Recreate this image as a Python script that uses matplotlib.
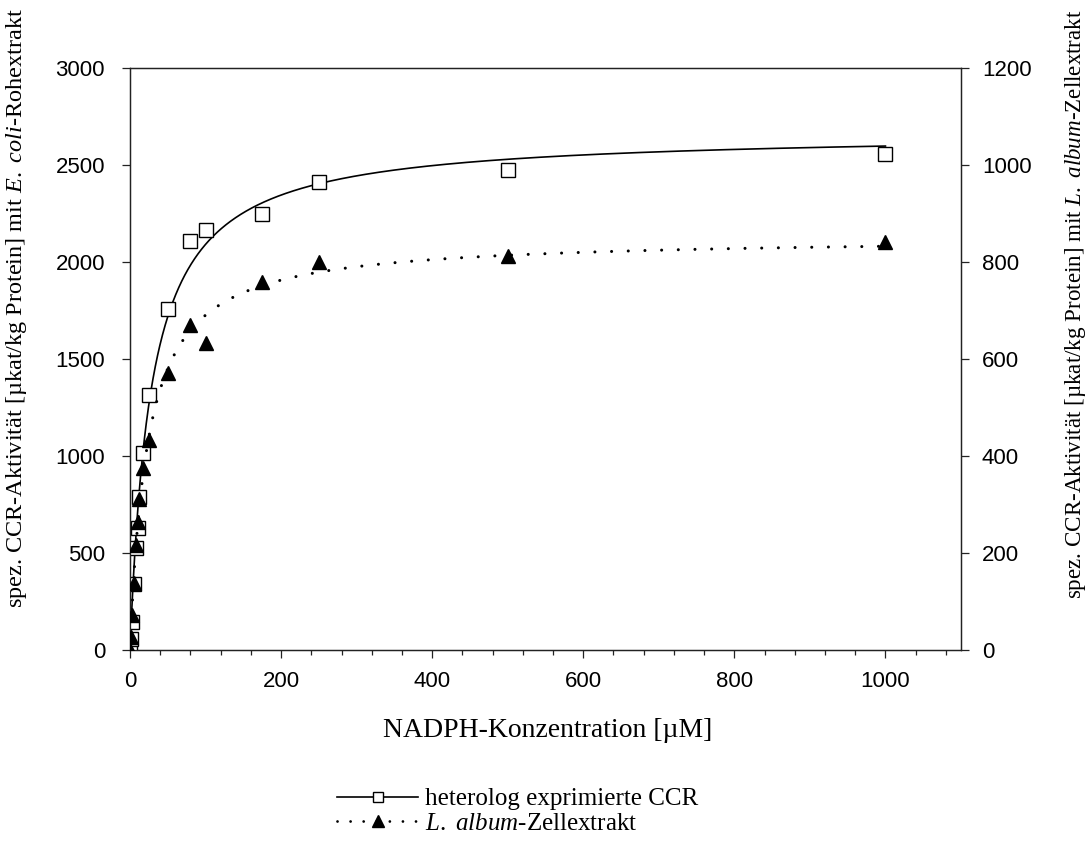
import numpy as np
import matplotlib
matplotlib.use("Agg")
import matplotlib.pyplot as plt
from matplotlib.lines import Line2D
from matplotlib.ticker import MultipleLocator

plt.rcParams['mathtext.fontset'] = 'custom'
plt.rcParams['mathtext.rm'] = 'Liberation Serif'
plt.rcParams['mathtext.it'] = 'Liberation Serif:italic'

# ---- data ----
nadph = [0, 1, 2.5, 5, 7.5, 10, 12.5, 17, 25, 50, 80, 100, 175, 250, 500, 1000]
ccr_ecoli = [0, 55, 145, 340, 527, 630, 790, 1015, 1312, 1760, 2110, 2165, 2245, 2410, 2475, 2555]
l_album = [0, 26, 72, 138, 216, 264, 311, 376, 432, 571, 670, 634, 759, 801, 812, 842]

x_ticks = [0, 200, 400, 600, 800, 1000]
yl_ticks = [0, 500, 1000, 1500, 2000, 2500, 3000]
yr_ticks = [0, 200, 400, 600, 800, 1000, 1200]


def mm_fit(s, v):
    s = np.asarray(s, float)
    v = np.asarray(v, float)
    best = None
    for km in np.linspace(1, 200, 4000):
        f = s / (km + s)
        vmax = np.sum(f * v) / np.sum(f * f)
        err = np.sum((vmax * f - v) ** 2)
        if best is None or err < best[0]:
            best = (err, vmax, km)
    return best[1], best[2]


W, H = 1089, 843
fig = plt.figure(figsize=(W / 100, H / 100), dpi=100)
ax = fig.add_axes([130 / W, 1 - 650 / H, (961 - 130) / W, (650 - 68) / H])
ax2 = ax.twinx()

sfit = np.linspace(0, 1000, 2000)
vm1, km1 = mm_fit(nadph, ccr_ecoli)
vm2, km2 = mm_fit(nadph, l_album)

ax.plot(sfit, vm1 * sfit / (km1 + sfit), color='black', lw=1.2, zorder=2)
ax.plot(nadph, ccr_ecoli, ls='none', marker='s', ms=9.5, mfc='white', mec='black', mew=1.0, zorder=3)

ax2.plot(sfit, vm2 * sfit / (km2 + sfit), color='black', lw=2.2, ls=(0, (0.01, 5.45)),
         dash_capstyle='round', zorder=2)
ax2.plot(nadph, l_album, ls='none', marker='^', ms=10, mfc='black', mec='black', zorder=3)

ax.set_xlim(0, 1100)
ax.set_ylim(0, 3000)
ax2.set_ylim(0, 1200)
ax.set_xticks(x_ticks)
ax.xaxis.set_minor_locator(MultipleLocator(40))
ax.set_yticks(yl_ticks)
ax2.set_yticks(yr_ticks)

for a in (ax, ax2):
    for lab in a.get_xticklabels() + a.get_yticklabels():
        lab.set_fontfamily('Liberation Sans')
        lab.set_fontsize(16)
    for sp in a.spines.values():
        sp.set_linewidth(0.9)
        sp.set_color('#222222')
ax.tick_params(axis='x', which='major', direction='out', length=6, width=0.9, color='#222222', pad=9)
ax.tick_params(axis='y', which='major', direction='out', length=6, width=0.9, color='#222222', pad=12)
ax.tick_params(axis='x', which='minor', direction='out', length=3.6, width=0.9, color='#222222')
ax2.tick_params(axis='y', which='major', direction='out', length=6, width=0.9, color='#222222', pad=9)

ax.set_xlabel('NADPH-Konzentration [µM]', family='Liberation Serif', size=20)
ax.xaxis.set_label_coords(0.503, -0.117)
ax.set_ylabel(r'spez. CCR-Aktivität [µkat/kg Protein] mit $\mathit{E.}$ $\mathit{coli}$-Rohextrakt',
              family='Liberation Serif', size=17.5)
ax.yaxis.set_label_coords(-0.121, 0.588)
ax2.set_ylabel(r'spez. CCR-Aktivität [µkat/kg Protein] mit $\mathit{L.}$ $\mathit{album}$-Zellextrakt',
               family='Liberation Serif', size=16.6, rotation=90)
ax2.yaxis.set_label_coords(1.1227, 0.594)

h1 = Line2D([], [], color='black', lw=1.2, marker='s', ms=7.5, mfc='white', mec='black', mew=1.0)
h2 = Line2D([], [], color='black', lw=2.0, ls=(0, (0.01, 4.7)), dash_capstyle='round',
            marker='^', ms=9, mfc='black', mec='black')
leg = fig.legend([h1, h2], ['heterolog exprimierte CCR', r'$\mathit{L.}$ $\mathit{album}$-Zellextrakt'],
                 loc='upper left', bbox_to_anchor=(337 / W, 1 - 788 / H),
                 frameon=False, handlelength=3.25, handletextpad=0.28, labelspacing=0.08,
                 borderpad=0, borderaxespad=0, prop=dict(family='Liberation Serif', size=18))

fig.savefig('out.png', dpi=100)
